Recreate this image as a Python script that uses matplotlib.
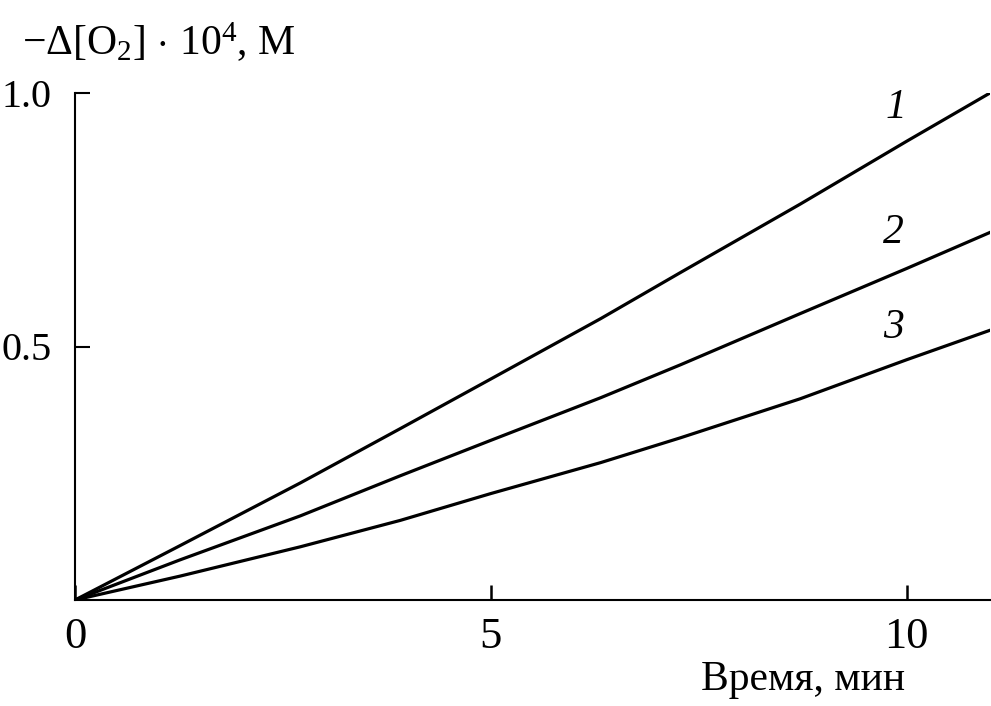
import matplotlib
matplotlib.use("Agg")
import matplotlib.pyplot as plt

plt.rcParams['font.family'] = ['Liberation Serif', 'DejaVu Serif']
plt.rcParams['mathtext.fontset'] = 'custom'
plt.rcParams['mathtext.rm'] = 'Liberation Serif'
plt.rcParams['mathtext.it'] = 'Liberation Serif:italic'
plt.rcParams['mathtext.bf'] = 'Liberation Serif:bold'

# data
time_min = [0, 1.26, 2.71, 3.91, 5.0, 6.32, 7.28, 8.72, 10.0, 11.0]
curve1 = [0, 0.107, 0.231, 0.338, 0.436, 0.555, 0.646, 0.781, 0.905, 1.0]
curve2 = [0, 0.079, 0.166, 0.245, 0.315, 0.399, 0.464, 0.565, 0.654, 0.725]
curve3 = [0, 0.047, 0.105, 0.157, 0.210, 0.271, 0.320, 0.397, 0.474, 0.532]
curve_labels = ['1', '2', '3']
label_pos = [(9.87, 0.97), (9.84, 0.725), (9.84, 0.536)]
xticks = [0, 5, 10]
yticks = [0.5, 1.0]

fig = plt.figure(figsize=(9.91, 7.06), dpi=100)
ax = fig.add_axes([75/991, 1-600/706, (990-75)/991, (600-93)/706])

for c in (curve1, curve2, curve3):
    ax.plot(time_min, c, color='black', lw=2.3, solid_joinstyle='round')

for lab, (lx, ly) in zip(curve_labels, label_pos):
    ax.text(lx, ly, lab, fontsize=30, style='italic', ha='center', va='center')

ax.set_xlim(0, 11.0)
ax.set_ylim(0, 1.0)
ax.spines['top'].set_visible(False)
ax.spines['right'].set_visible(False)
for s in ('left', 'bottom'):
    ax.spines[s].set_linewidth(1.5)

ax.set_xticks(xticks)
ax.set_xticklabels([str(t) for t in xticks])
ax.set_yticks(yticks)
ax.set_yticklabels(['0.5', '1.0'])
ax.tick_params(axis='x', direction='in', length=11, width=1.8, labelsize=32, pad=12)
ax.tick_params(axis='y', direction='in', length=11, width=1.5, labelsize=29, pad=17)

fig.text(22/991, 1-55/706, r'$-\Delta[\mathrm{O}_2]\,\cdot\,10^4$, M', fontsize=30,
         ha='left', va='baseline')
fig.text(905/991, 1-690/706, 'Время, мин', fontsize=30, ha='right', va='baseline')

fig.savefig('out.png', dpi=100)
